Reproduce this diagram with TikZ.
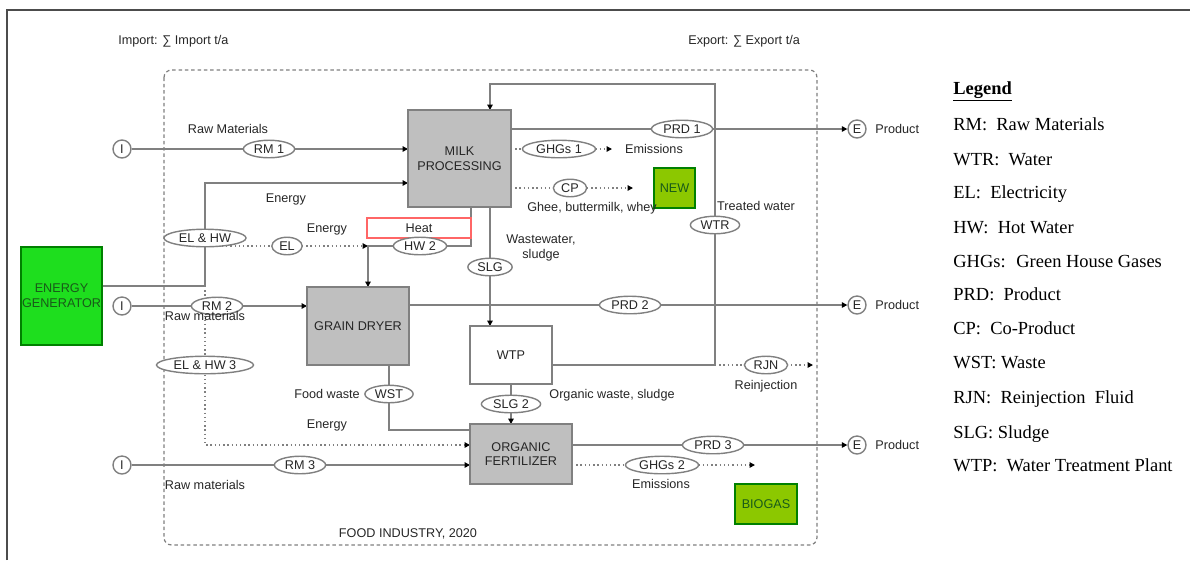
\documentclass[tikz,border=0pt]{standalone}
\usepackage{fontspec}
\setmainfont{Liberation Serif}
\setsansfont{Liberation Sans}
\usetikzlibrary{shapes.geometric,arrows.meta,positioning}
\pgfdeclarelayer{back}
\pgfsetlayers{back,main}

\definecolor{boxgray}{RGB}{191,191,191}
\definecolor{linegray}{RGB}{128,128,128}
\definecolor{gengreen}{RGB}{30,222,30}
\definecolor{newgreen}{RGB}{140,200,0}
\definecolor{txtgreen}{RGB}{25,90,25}

\tikzset{
  diag/.style={font=\sffamily\fontsize{7.2}{8.4}\selectfont, text=black!85},
  unit/.style={diag, draw=linegray, fill=boxgray, line width=0.8pt, outer sep=0, inner sep=0, align=center},
  greenbox/.style={unit, draw=black!50!green, text=txtgreen},
  tag/.style={diag, ellipse, draw=linegray, fill=white, line width=0.8pt, inner xsep=0.6mm, inner ysep=0pt, minimum height=3.5mm},
  port/.style={diag, circle, draw=linegray, fill=white, line width=0.8pt, inner sep=0, minimum size=3.6mm},
  flow/.style={draw=linegray, line width=0.8pt},
  dotflow/.style={flow, dash pattern=on 0.8pt off 1.6pt},
  tip/.style={-{Triangle[length=1.1mm,width=1.1mm,color=black]}},
  legtext/.style={font=\fontsize{10.5}{12}\selectfont, anchor=base west, inner sep=0}
}

\begin{document}
\begin{tikzpicture}[x=0.2mm, y=-0.2mm]
        \useasboundingbox (0,0) rectangle (1190,560);

        \draw[black!70, line width=0.6pt] (7,560) -- (7,10) -- (1190,10);

        \draw[linegray, line width=0.7pt, dash pattern=on 2pt off 1.6pt, rounded corners=1.5mm] (164,70) rectangle (817,545);

        \draw (118,41) node[diag, anchor=west, inner sep=0] (imp-txt) {Import: ∑ Import t/a};

        \draw (688,41) node[diag, anchor=west, inner sep=0] (exp-txt) {Export: ∑ Export t/a};

        \draw (459.5,158.5) node[unit, minimum width=20.6mm, minimum height=19.4mm] (milk-p) {MILK\\PROCESSING};

        \draw (358,326) node[unit, minimum width=20.4mm, minimum height=15.6mm] (grain-d) {GRAIN DRYER};

        \draw (511,355) node[unit, fill=white, minimum width=16.4mm, minimum height=11.6mm] (wtp) {WTP};

        \draw (521,454) node[unit, minimum width=20.4mm, minimum height=12mm] (org-f) {ORGANIC\\FERTILIZER};

        \draw (61.5,296) node[greenbox, fill=gengreen, minimum width=16.2mm, minimum height=19.6mm] (en-gen) {ENERGY\\GENERATOR};

        \draw (674.5,188) node[greenbox, fill=newgreen, minimum width=8.2mm, minimum height=8mm] (new-b) {NEW};

        \draw (766,504) node[greenbox, fill=newgreen, minimum width=12.4mm, minimum height=8mm] (biogas) {BIOGAS};

        \draw (419,228) node[unit, draw=red!60, fill=white, line width=0.6pt, minimum width=20.8mm, minimum height=4mm] (heat) {Heat};

        \draw (122,149) node[port] (imp-1) {I};
        \draw (122,306) node[port] (imp-2) {I};
        \draw (122,465) node[port] (imp-3) {I};
        \draw (857,129) node[port] (exp-1) {E};
        \draw (857,305) node[port] (exp-2) {E};
        \draw (857,445) node[port] (exp-3) {E};

        \draw (269,149) node[tag] (rm-1) {RM 1};
        \draw (205,238) node[tag] (elhw-1) {EL \& HW};
        \draw (287,246) node[tag] (el) {EL};
        \draw (420,246) node[tag] (hw-2) {HW 2};
        \draw (217,306) node[tag] (rm-2) {RM 2};
        \draw (205,365) node[tag] (elhw-3) {EL \& HW 3};
        \draw (300,465) node[tag] (rm-3) {RM 3};
        \draw (389,394) node[tag] (wst) {WST};
        \draw (682,129) node[tag] (prd-1) {PRD 1};
        \draw (559,149) node[tag] (ghg-1) {GHGs 1};
        \draw (570,188) node[tag] (cp) {CP};
        \draw (715,225) node[tag] (wtr) {WTR};
        \draw (490,267) node[tag] (slg) {SLG};
        \draw (630,305) node[tag] (prd-2) {PRD 2};
        \draw (511,404) node[tag] (slg-2) {SLG 2};
        \draw (766,365) node[tag] (rjn) {RJN};
        \draw (713,445) node[tag] (prd-3) {PRD 3};
        \draw (662,465) node[tag] (ghg-2) {GHGs 2};

        \coordinate (j-gen) at (205,286);
        \coordinate (c-en) at (205,183);
        \coordinate (j-gd) at (368,246);
        \coordinate (c-hw) at (471,246);
        \coordinate (c-ghg1) at (612,149);
        \coordinate (c-cp) at (633,188);
        \coordinate (c-wtr) at (715,365);
        \coordinate (c-top) at (715,84);
        \coordinate (c-rjn) at (813,365);
        \coordinate (c-el3) at (205,445);
        \coordinate (c-wst) at (389,430);
        \coordinate (c-ghg2) at (755,465);

        \begin{pgfonlayer}{back}
        \draw[flow, tip] (imp-1) -- (rm-1.center) -- (milk-p.west |- imp-1);
        \draw[flow, tip] (en-gen.east |- j-gen) -- (j-gen) -- (elhw-1.center) -- (c-en) -- (milk-p.west |- c-en);
        \draw[dotflow, tip] (elhw-1 |- el) -- (el.center) -- (j-gd);
        \draw[flow, tip] (milk-p.south -| c-hw) -- (c-hw) -- (hw-2.center) -- (j-gd) -- (grain-d.north -| j-gd);
        \draw[flow, tip] (imp-2) -- (rm-2.center) -- (grain-d.west |- imp-2);
        \draw[dotflow, tip] (j-gen) -- (elhw-3.center) -- (c-el3) -- (org-f.west |- c-el3);
        \draw[flow, tip] (imp-3) -- (rm-3.center) -- (org-f.west |- imp-3);
        \draw[flow] (grain-d.south -| wst) -- (wst.center) -- (c-wst) -- (org-f.west |- c-wst);
        \draw[flow, tip] (milk-p.east |- prd-1) -- (prd-1.center) -- (exp-1);
        \draw[dotflow, tip] (milk-p.east |- ghg-1) -- (ghg-1.center) -- (c-ghg1);
        \draw[dotflow, tip] (milk-p.east |- cp) -- (cp.center) -- (c-cp);
        \draw[flow, tip] (milk-p.south -| slg) -- (slg.center) -- (wtp.north -| slg);
        \draw[flow, tip] (grain-d.east |- prd-2) -- (prd-2.center) -- (exp-2);
        \draw[flow, tip] (wtp.east |- c-wtr) -- (c-wtr) -- (wtr.center) -- (c-top) -- (c-top -| slg) -- (milk-p.north -| slg);
        \draw[dotflow, tip] (c-wtr) -- (rjn.center) -- (c-rjn);
        \draw[flow, tip] (wtp.south -| slg-2) -- (slg-2.center) -- (org-f.north -| slg-2);
        \draw[flow, tip] (org-f.east |- prd-3) -- (prd-3.center) -- (exp-3);
        \draw[dotflow, tip] (org-f.east |- ghg-2) -- (ghg-2.center) -- (c-ghg2);
        \end{pgfonlayer}

        \draw (228,129) node[diag] (lbl-rm1) {Raw Materials};
        \draw (286,199) node[diag] (lbl-en1) {Energy};
        \draw (327,229) node[diag] (lbl-en2) {Energy};
        \draw (205,316) node[diag] (lbl-rm2) {Raw materials};
        \draw (205,485) node[diag] (lbl-rm3) {Raw materials};
        \draw (327,394) node[diag] (lbl-fw) {Food waste};
        \draw (327,425) node[diag] (lbl-en3) {Energy};
        \draw (408,534) node[diag] (lbl-fi) {FOOD INDUSTRY, 2020};
        \draw (541,248) node[diag, align=center, inner sep=0] (lbl-ww) {Wastewater,\\sludge};
        \draw (654,149) node[diag] (lbl-em1) {Emissions};
        \draw (592,208) node[diag] (lbl-gh) {Ghee, buttermilk, whey};
        \draw (756,206) node[diag] (lbl-tw) {Treated water};
        \draw (612,395) node[diag] (lbl-ow) {Organic waste, sludge};
        \draw (766,386) node[diag] (lbl-rj) {Reinjection};
        \draw (661,484) node[diag] (lbl-em2) {Emissions};
        \draw (exp-1.east) node[diag, anchor=west, xshift=0.5mm] (lbl-p1) {Product};
        \draw (exp-2.east) node[diag, anchor=west, xshift=0.5mm] (lbl-p2) {Product};
        \draw (exp-3.east) node[diag, anchor=west, xshift=0.5mm] (lbl-p3) {Product};

        \draw (953,94) node[legtext] (leg) {\textbf{\underline{Legend}}};
        \draw (953,130) node[legtext] (leg-rm) {RM:~ Raw Materials};
        \draw (953,165) node[legtext] (leg-wtr) {WTR:~ Water};
        \draw (953,198) node[legtext] (leg-el) {EL:~ Electricity};
        \draw (953,233) node[legtext] (leg-hw) {HW:~ Hot Water};
        \draw (953,267) node[legtext] (leg-ghg) {GHGs:~ Green House Gases};
        \draw (953,300) node[legtext] (leg-prd) {PRD:~ Product};
        \draw (953,334) node[legtext] (leg-cp) {CP:~ Co-Product};
        \draw (953,368) node[legtext] (leg-wst) {WST: Waste};
        \draw (953,403) node[legtext] (leg-rjn) {RJN:~ Reinjection~ Fluid};
        \draw (953,438) node[legtext] (leg-slg) {SLG: Sludge};
        \draw (953,471) node[legtext] (leg-wtp) {WTP:~ Water Treatment Plant};
      \end{tikzpicture}
\end{document}
